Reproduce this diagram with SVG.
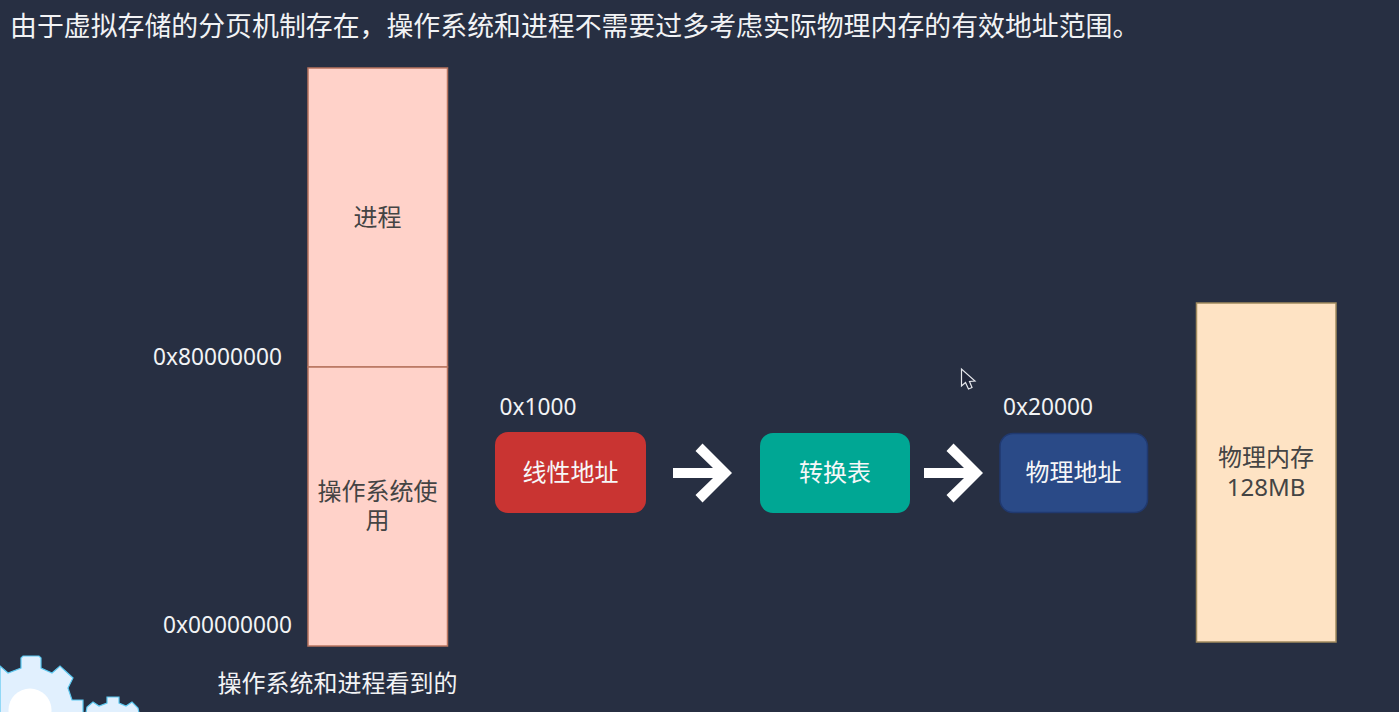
<svg xmlns="http://www.w3.org/2000/svg" width="1399" height="712" viewBox="0 0 1399 712">
<style>
text{font-family:"Noto Sans","Noto Sans CJK SC",sans-serif;text-anchor:middle}
.w{fill:#f2f3f5;font-size:22.700px}
.d{fill:#444444;font-size:24px}
.t{fill:#f6f7f8;font-size:24px}
.m{fill:#ffd2c9;stroke:#b8745f;stroke-width:1.5}
.a{fill:#ffffff}
.g{fill:#e1f0fe;stroke:#5cc8f0;stroke-width:1.2}
</style>
<rect width="1399" height="712" fill="#272f42"/>
<text id="title" x="10" y="36" style="text-anchor:start;font-size:26.900px" fill="#f2f3f5">由于虚拟存储的分页机制存在，操作系统和进程不需要过多考虑实际物理内存的有效地址范围。</text>
<g id="proc"><rect class="m" x="308" y="68" width="139.500" height="299"/><text class="d" x="377.500" y="226">进程</text></g>
<g id="os"><rect class="m" x="308" y="367" width="139.500" height="279"/><text class="d" x="377.500" y="500">操作系统使<tspan x="377.500" y="529">用</tspan></text></g>
<text class="w" x="217.500" y="365">0x80000000</text>
<text class="w" x="227.500" y="633">0x00000000</text>
<text class="w" x="337.500" y="692" style="font-size:24px">操作系统和进程看到的</text>
<text class="w" x="538" y="414.500">0x1000</text>
<text class="w" x="1048" y="414.500">0x20000</text>
<g id="linear"><rect x="495" y="432" width="151" height="81" rx="13" fill="#c93432"/><text class="t" x="570.500" y="481">线性地址</text></g>
<g id="table"><rect x="760" y="433" width="150" height="80" rx="13" fill="#00a794"/><text class="t" x="835" y="481">转换表</text></g>
<g id="phys"><rect x="1000" y="433.500" width="147.500" height="79" rx="13" fill="#2a4a87" stroke="#20396f" stroke-width="1.500"/><text class="t" x="1073.500" y="481">物理地址</text></g>
<g id="mem"><rect x="1196.500" y="303" width="139.500" height="339" fill="#fee3c4" stroke="#a08a5e" stroke-width="1.500"/><text class="d" x="1266" y="466">物理内存<tspan x="1266" y="495.500">128MB</tspan></text></g>
<g id="connectors">
<path class="a" d="M673 468H713L695.500 451L702.500 443.500L732 473L702.500 502.500L695.500 495L713 478H673Z"/>
<path class="a" d="M924 468H964L946.500 451L953.500 443.500L983 473L953.500 502.500L946.500 495L964 478H924Z"/>
</g>
<g id="cursor"><path d="M961.500 369V386L965.500 382.500L968.500 389L972 387.500L969.500 381.500L975 381Z" fill="#20263a" stroke="#e6e8ec" stroke-width="1.200"/></g>
<g id="gears">
<path class="g" d="M0 666L8 673L21 668V658L23 656H39L41 658V668L52 673L60 666L73 678L68 688L72 700H83V713H0Z"/>
<circle cx="30" cy="710" r="21.500" fill="#ffffff"/>
<path class="g" d="M86 713L87 707L93 702L99 706L107 703V697H119V703L126 706L132 702L138 708L139 713Z"/>
</g>
</svg>
